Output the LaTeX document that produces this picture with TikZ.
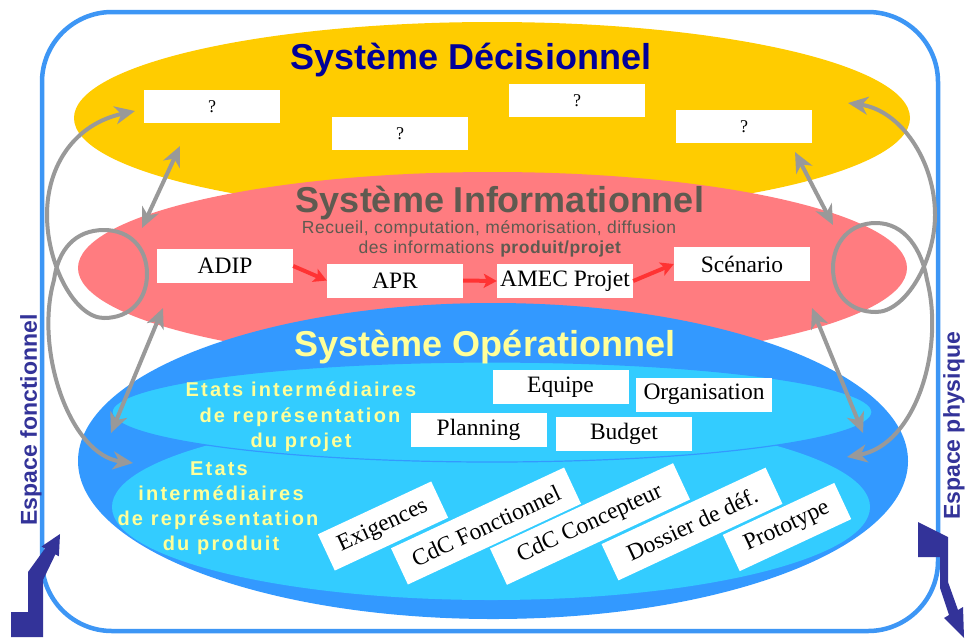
\documentclass[tikz,border=0pt]{standalone}
\usepackage{fontspec}
\setmainfont{Liberation Serif}
\newfontfamily\lsans{Liberation Sans}
\newfontfamily\lsansls[LetterSpace=11]{Liberation Sans}
\newfontfamily\lsanssub[LetterSpace=3]{Liberation Sans}
\usetikzlibrary{arrows.meta}
\definecolor{bord}{HTML}{3D96F5}
\definecolor{decY}{HTML}{FFCC00}
\definecolor{infP}{HTML}{FF7C80}
\definecolor{opB}{HTML}{3399FF}
\definecolor{opL}{HTML}{33CCFF}
\definecolor{navyT}{HTML}{000099}
\definecolor{greyT}{HTML}{5F5A50}
\definecolor{yelT}{HTML}{FFFF99}
\definecolor{espT}{HTML}{333399}
\definecolor{garr}{HTML}{999999}
\definecolor{rarr}{HTML}{FF3333}
\begin{document}
\begin{tikzpicture}[x=1pt,y=-1pt,
  wbox/.style={fill=white, inner sep=0pt, minimum width=136pt, minimum height=34pt, font=\fontsize{23.5}{24}\selectfont},
  qbox/.style={fill=white, inner sep=0pt, minimum width=136pt, minimum height=33pt, font=\fontsize{18}{20}\selectfont},
  rbox/.style={fill=white, inner sep=0pt, minimum height=40pt, rotate=25, font=\fontsize{23.5}{24}\selectfont},
  garrow/.style={draw=garr, line width=4pt, >={Stealth[length=20pt,width=18pt,inset=6pt]}, <->},
  rarrow/.style={draw=rarr, line width=4pt, >={Stealth[length=13pt,width=14pt,inset=3pt]}, ->},
  title/.style={font=\lsans\bfseries\fontsize{36}{40}\selectfont, anchor=base, inner sep=0pt},
  ylab/.style={font=\lsansls\bfseries\fontsize{20}{24}\selectfont, text=yelT, anchor=base, inner sep=0pt},
  sublab/.style={font=\lsanssub\fontsize{17.5}{21}\selectfont, text=greyT, anchor=base, inner sep=0pt},
  esp/.style={font=\lsans\bfseries\fontsize{23}{26}\selectfont, text=espT, rotate=90, inner sep=0pt}
]
\useasboundingbox (0,0) rectangle (965,641);
\fill[white] (0,0) rectangle (965,641);

% outer frame
\draw[bord, line width=4.5pt, rounded corners=70pt] (42,12) rectangle (938,631);

% ellipses
\fill[decY] (492,118) ellipse [x radius=418pt, y radius=96pt];
\fill[infP] (492.5,268) ellipse [x radius=414.5pt, y radius=96pt];
\fill[opB] (493,461) ellipse [x radius=415pt, y radius=158pt];
\fill[opL] (491,507) ellipse [x radius=379pt, y radius=93pt];
\filldraw[fill=opL, draw=opB, line width=1.2pt] (492,412) ellipse [x radius=380pt, y radius=50pt];

% titles
\node[title, text=navyT] (tdec) at (471,69) {Système Décisionnel};
\node[title, text=greyT] (tinf) at (500,212) {Système Informationnel};
\node[title, text=yelT] (tope) at (485,356) {Système Opérationnel};

\node[sublab] (sub1) at (489,233) {Recueil, computation, mémorisation, diffusion};
\node[sublab] (sub2) at (490,253) {des informations \textbf{produit/projet}};

\node[ylab] (yp1) at (301,396) {Etats intermédiaires};
\node[ylab] (yp2) at (300,422) {de représentation};
\node[ylab] (yp3) at (301,447) {du projet};

\node[ylab] (yq1) at (219,475) {Etats};
\node[ylab] (yq2) at (221,500) {intermédiaires};
\node[ylab] (yq3) at (218,525) {de représentation};
\node[ylab] (yq4) at (221,550) {du produit};

\node[esp] (espf) at (31,420) {Espace fonctionnel};
\node[esp] (espp) at (954,426) {Espace physique};

% boxes
\node[qbox] (q1) at (212,106.5) {?};
\node[qbox] (q2) at (400,133.5) {?};
\node[qbox] (q3) at (577,100.5) {?};
\node[qbox] (q4) at (744,126.5) {?};

\node[wbox] (adip) at (225,266) {ADIP};
\node[wbox] (apr) at (395,280.5) {APR};
\node[wbox] (amec) at (565,281) {AMEC Projet};
\node[wbox] (scen) at (742,264) {Scénario};

\node[wbox] (equipe) at (560.5,387) {Equipe};
\node[wbox] (orga) at (704,394.5) {Organisation};
\node[wbox] (plan) at (478.5,429.5) {Planning};
\node[wbox] (budget) at (624,433.5) {Budget};

\node[rbox, minimum width=125pt] (exig) at (383,526) {Exigences};
\node[rbox, minimum width=191pt] (cdcf) at (486,526) {CdC Fonctionnel};
\node[rbox, minimum width=202pt] (cdcc) at (590,524) {CdC Concepteur};
\node[rbox, minimum width=181pt] (doss) at (692,524) {Dossier de déf.};
\node[rbox, minimum width=123pt] (proto) at (787,527) {Prototype};

% red arrows
\draw[rarrow] (adip.east) -- (apr.west);
\draw[rarrow] (apr.east) -- (amec.west);
\draw[rarrow] (amec.east) -- (scen.west);

% grey arrows
\coordinate (g1a) at (180,146);
\coordinate (g1b) at (142,228);
\coordinate (g2a) at (163,308);
\coordinate (g2b) at (111,433);
\coordinate (g4a) at (795,152);
\coordinate (g4b) at (833,225);
\coordinate (g5a) at (812,308);
\coordinate (g5b) at (863,433);
\coordinate (lt) at (135,111);
\coordinate (lb) at (133,463);
\coordinate (rt) at (848,103);
\coordinate (rb) at (847,457);

\draw[garrow] (g1a) -- (g1b);
\draw[garrow] (g2a) -- (g2b);
\draw[garrow] (g4a) -- (g4b);
\draw[garrow] (g5a) -- (g5b);

\draw[garrow] (lt) .. controls (75,124) and (47,165) .. (47,215)
  .. controls (47,265) and (75,318) .. (104,318)
  .. controls (130,318) and (147,300) .. (147,274)
  .. controls (147,248) and (130,230) .. (104,230)
  .. controls (75,230) and (58,250) .. (54,280)
  .. controls (34,350) and (70,455) .. (lb);

\draw[garrow] (rt) .. controls (900,110) and (935,160) .. (935,215)
  .. controls (935,262) and (905,312) .. (876,312)
  .. controls (850,312) and (833,295) .. (833,268)
  .. controls (833,242) and (850,223) .. (876,223)
  .. controls (905,223) and (922,250) .. (927,280)
  .. controls (945,350) and (915,445) .. (rb);

% lightning arrows
\fill[espT] (11,637) -- (43,637) -- (43,580) -- (55.4,554.3) -- (58.9,556.3) -- (60,534)
  -- (41.5,546.5) -- (45,548.5) -- (28,572) -- (28,612) -- (11,612) -- cycle;
\fill[espT] (918,522) -- (948,537) -- (948,582) -- (958,610) -- (963,607)
  -- (964,638) -- (944,618) -- (949,615) -- (940,588) -- (940,557) -- (918,557) -- cycle;
\end{tikzpicture}
\end{document}
